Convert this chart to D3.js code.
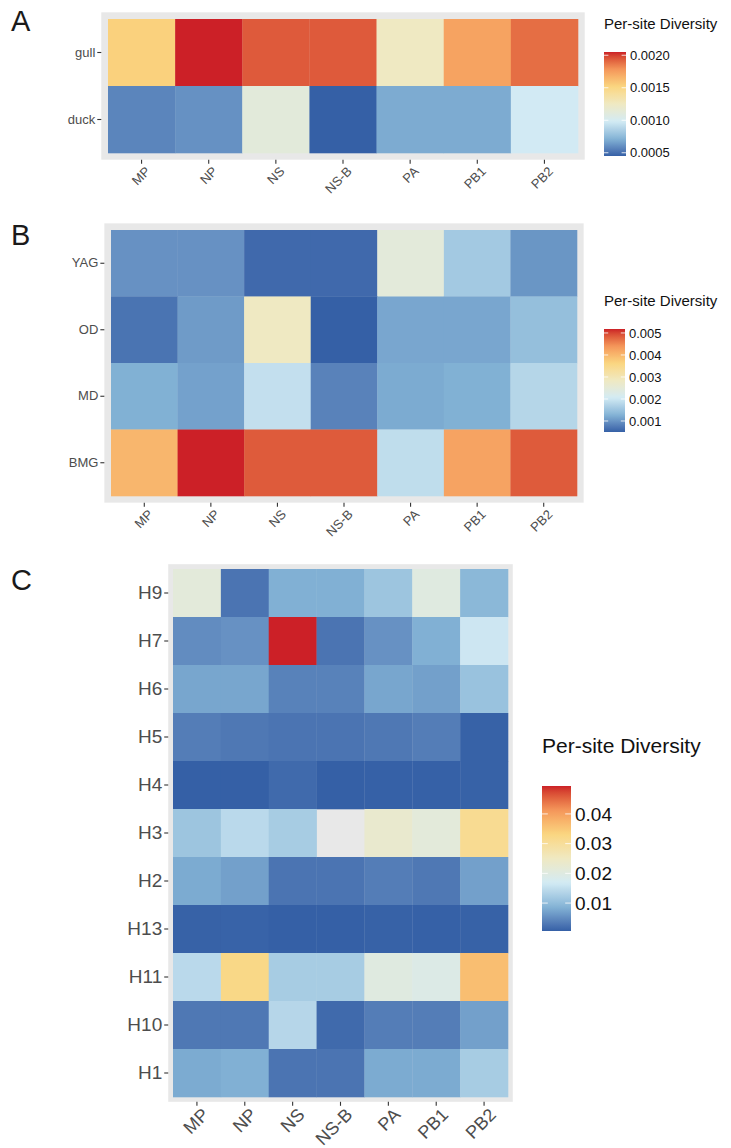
<!DOCTYPE html>
<html>
<head>
<meta charset="utf-8">
<script src="https://cdn.jsdelivr.net/npm/d3@7"></script>
<style>
  body { margin: 0; background: #fff; }
  svg { font-family: "Liberation Sans", Arial, sans-serif; }
</style>
</head>
<body>
<div id="chart"></div>
<script>
// Segments on the x axis (same in all panels)
const genes = ["MP", "NP", "NS", "NS-B", "PA", "PB1", "PB2"];

// Panel A - hosts, top to bottom
const hostsA = ["gull", "duck"];
const gullA = [0.00154, 0.00205, 0.00194, 0.00194, 0.00125, 0.00173, 0.00189];
const duckA = [0.00057, 0.00061, 0.00112, 0.00045, 0.00069, 0.00069, 0.00098];
const ticksA = [0.0005, 0.0010, 0.0015, 0.0020];

// Panel B - hosts, top to bottom
const hostsB = ["YAG", "OD", "MD", "BMG"];
const yagB = [0.00097, 0.00097, 0.00059, 0.00059, 0.00247, 0.00158, 0.00101];
const odB  = [0.00069, 0.00106, 0.00284, 0.00050, 0.00116, 0.00116, 0.00144];
const mdB  = [0.00125, 0.00111, 0.00190, 0.00083, 0.00120, 0.00125, 0.00176];
const bmgB = [0.00401, 0.00518, 0.00485, 0.00485, 0.00186, 0.00424, 0.00485];
const ticksB = [0.001, 0.002, 0.003, 0.004, 0.005];

// Panel C - HA subtypes, top to bottom (null = no tile)
const subtypesC = ["H9", "H7", "H6", "H5", "H4", "H3", "H2", "H13", "H11", "H10", "H1"];
const valuesC = [
  [0.0211, 0.0026, 0.0084, 0.0084, 0.0113, 0.0201, 0.0094],
  [0.0050, 0.0055, 0.0494, 0.0026, 0.0055, 0.0084, 0.0162],
  [0.0074, 0.0074, 0.0040, 0.0040, 0.0074, 0.0069, 0.0108],
  [0.0035, 0.0030, 0.0026, 0.0026, 0.0030, 0.0035, 0.0008],
  [0.0006, 0.0006, 0.0016, 0.0006, 0.0007, 0.0007, 0.0008],
  [0.0113, 0.0143, 0.0123, null,   0.0230, 0.0211, 0.0309],
  [0.0079, 0.0069, 0.0026, 0.0026, 0.0035, 0.0030, 0.0069],
  [0.0008, 0.0009, 0.0006, 0.0006, 0.0008, 0.0007, 0.0008],
  [0.0143, 0.0323, 0.0123, 0.0123, 0.0201, 0.0191, 0.0362],
  [0.0030, 0.0030, 0.0138, 0.0016, 0.0035, 0.0035, 0.0069],
  [0.0079, 0.0084, 0.0026, 0.0026, 0.0079, 0.0079, 0.0123]
];
const ticksC = [0.01, 0.02, 0.03, 0.04];

const LEGEND_TITLE = "Per-site Diversity";

// blue -> yellow -> red, like scale_fill_distiller(RdYlBu)
const PALETTE = ["#3560a6", "#84b4d6", "#d3ebf4", "#efe9c2", "#fad680", "#f4965a", "#cc2027"];

const svg = d3.select("#chart")
  .append("svg")
  .attr("width", 731)
  .attr("height", 1148);

const defs = svg.append("defs");

function drawPanel(p) {
  const all = p.values.flat().filter(v => v != null);
  const [vmin, vmax] = d3.extent(all);
  const color = d3.scaleLinear()
    .domain(PALETTE.map((c, i) => vmin + i * (vmax - vmin) / (PALETTE.length - 1)))
    .range(PALETTE)
    .interpolate(d3.interpolateLab);

  const x = d3.scaleBand().domain(genes).range(p.xr);
  const y = d3.scaleBand().domain(p.rows).range(p.yr);
  const padX = 0.1 * x.bandwidth();
  const padY = 0.1 * y.bandwidth();
  const g = svg.append("g");

  // panel background
  g.append("rect")
    .attr("x", p.xr[0] - padX)
    .attr("y", p.yr[0] - padY)
    .attr("width", p.xr[1] - p.xr[0] + 2 * padX)
    .attr("height", p.yr[1] - p.yr[0] + 2 * padY)
    .attr("fill", "#e8e8e8");

  const cells = [];
  p.rows.forEach((r, i) => genes.forEach((gn, j) => {
    if (p.values[i][j] != null) cells.push({ row: r, gene: gn, v: p.values[i][j] });
  }));

  g.selectAll("rect.tile")
    .data(cells)
    .enter()
    .append("rect")
    .attr("class", "tile")
    .attr("x", d => x(d.gene))
    .attr("y", d => y(d.row))
    .attr("width", x.bandwidth() + 0.3)
    .attr("height", y.bandwidth() + 0.3)
    .attr("fill", d => color(d.v));

  // y axis
  const yAxis = d3.axisLeft(y).tickSize(p.tick).tickPadding(2);
  const ya = g.append("g")
    .attr("transform", "translate(" + (p.xr[0] - padX) + ",0)")
    .call(yAxis);
  ya.select(".domain").remove();
  ya.selectAll("line").attr("stroke", "#333").attr("stroke-width", 1.1);
  ya.selectAll("text")
    .attr("fill", "#4d4d4d")
    .style("font-size", p.fs + "px")
    .style("font-family", "Liberation Sans, Arial, sans-serif");

  // x axis with 45 degree labels
  const xAxis = d3.axisBottom(x).tickSize(p.tick).tickPadding(0);
  const xa = g.append("g")
    .attr("transform", "translate(0," + (p.yr[1] + padY) + ")")
    .call(xAxis);
  xa.select(".domain").remove();
  xa.selectAll("line").attr("stroke", "#333").attr("stroke-width", 1.1);
  xa.selectAll("text")
    .attr("fill", "#4d4d4d")
    .style("font-size", (p.xfs || p.fs) + "px")
    .style("font-family", "Liberation Sans, Arial, sans-serif")
    .attr("text-anchor", "end")
    .attr("y", 0)
    .attr("dy", "0.71em")
    .attr("transform", "translate(" + p.xlab[0] + "," + (p.tick + p.xlab[1]) + ") rotate(-45)");

  // panel letter
  svg.append("text")
    .attr("x", 11)
    .attr("y", p.letterY)
    .attr("font-size", 29)
    .attr("fill", "#1a1a1a")
    .text(p.letter);

  // legend
  const L = p.legend;
  svg.append("text")
    .attr("x", L.x)
    .attr("y", L.titleY)
    .attr("font-size", L.titleFs)
    .attr("fill", "#111")
    .text(LEGEND_TITLE);

  const gradId = "grad" + p.letter;
  const grad = defs.append("linearGradient")
    .attr("id", gradId)
    .attr("x1", 0).attr("y1", 1).attr("x2", 0).attr("y2", 0);
  d3.range(0, 1.0001, 0.02).forEach(o => {
    grad.append("stop")
      .attr("offset", o)
      .attr("stop-color", color(vmin + o * (vmax - vmin)));
  });

  const ls = d3.scaleLinear().domain([vmin, vmax]).range([L.y1, L.y0]);
  svg.append("rect")
    .attr("x", L.x)
    .attr("y", L.y0)
    .attr("width", L.w)
    .attr("height", L.y1 - L.y0)
    .attr("fill", "url(#" + gradId + ")");

  const lt = svg.append("g");
  p.ticks.forEach(t => {
    lt.append("line")
      .attr("x1", L.x).attr("x2", L.x + L.w / 5)
      .attr("y1", ls(t)).attr("y2", ls(t))
      .attr("stroke", "#fff").attr("stroke-opacity", 0.8);
    lt.append("line")
      .attr("x1", L.x + L.w - L.w / 5).attr("x2", L.x + L.w)
      .attr("y1", ls(t)).attr("y2", ls(t))
      .attr("stroke", "#fff").attr("stroke-opacity", 0.8);
    lt.append("text")
      .attr("x", L.x + L.w + 4)
      .attr("y", ls(t))
      .attr("dy", "0.36em")
      .attr("font-size", L.fs)
      .attr("fill", "#111")
      .text(d3.format(p.fmt)(t));
  });
}

drawPanel({
  letter: "A", letterY: 31,
  rows: hostsA, values: [gullA, duckA],
  xr: [108, 578], yr: [19, 153],
  fs: 13, tick: 4, xlab: [3, 2],
  ticks: ticksA, fmt: ".4f",
  legend: { x: 604, titleY: 29, titleFs: 15, y0: 52, y1: 156, w: 22, fs: 13 }
});

drawPanel({
  letter: "B", letterY: 245,
  rows: hostsB, values: [yagB, odB, mdB, bmgB],
  xr: [111, 577], yr: [230, 496],
  fs: 13, tick: 4, xlab: [3, 2],
  ticks: ticksB, fmt: ".3f",
  legend: { x: 604, titleY: 306, titleFs: 15, y0: 329, y1: 432, w: 21, fs: 13 }
});

drawPanel({
  letter: "C", letterY: 590,
  rows: subtypesC, values: valuesC,
  xr: [173, 508], yr: [569, 1097],
  fs: 19, xfs: 18, tick: 4, xlab: [4, 1],
  ticks: ticksC, fmt: ".2f",
  legend: { x: 542, titleY: 753, titleFs: 21, y0: 786, y1: 931, w: 29, fs: 19 }
});
</script>
</body>
</html>
